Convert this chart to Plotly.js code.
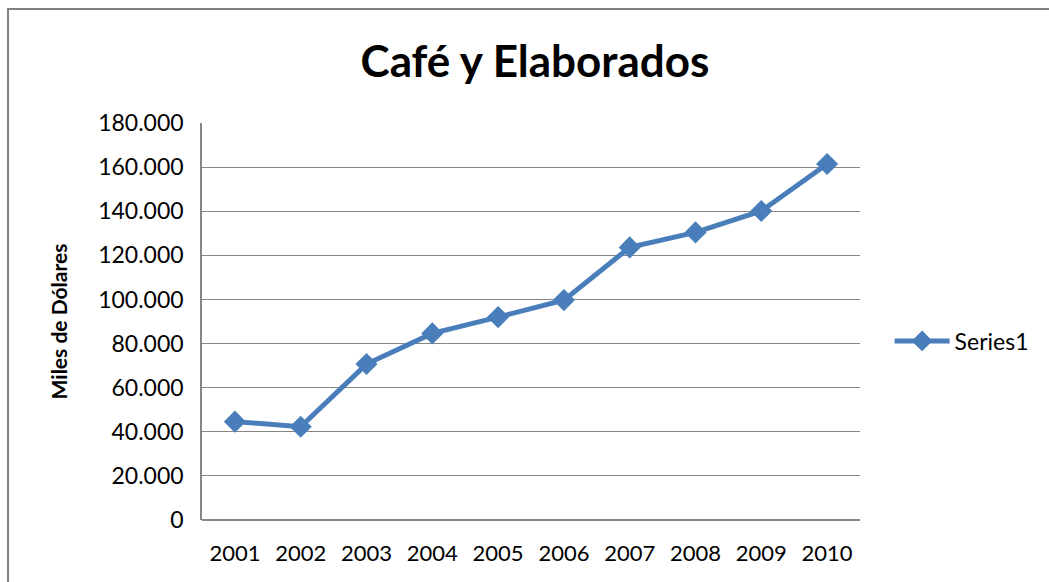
<!DOCTYPE html>
<html>
<head>
<meta charset="utf-8">
<script src="https://cdn.plot.ly/plotly-3.0.1.min.js"></script>
<style>
  body { margin: 0; background: #fff; }
  #plot { width: 1049px; height: 582px; }
</style>
</head>
<body>
<div id="plot"></div>
<script>
  // years on the x axis
  var years = ["2001", "2002", "2003", "2004", "2005", "2006", "2007", "2008", "2009", "2010"];
  // Miles de Dólares
  var values = [44600, 42300, 70700, 84600, 92000, 99700, 123600, 130400, 140100, 161400];
  var yTicks = [0, 20000, 40000, 60000, 80000, 100000, 120000, 140000, 160000, 180000];

  var trace1 = {
    x: years,
    y: values,
    name: "Series1",
    type: "scatter",
    mode: "lines+markers",
    line: { color: "#4a7ebb", width: 5 },
    marker: { symbol: "diamond", size: 17, color: "#4a7ebb" }
  };

  var layout = {
    title: {
      text: "<b>Café y Elaborados</b>",
      font: { family: "Lato, 'Open Sans', sans-serif", size: 44, color: "#000" },
      x: 0.51, xanchor: "center",
      y: 0.895, yanchor: "middle"
    },
    separators: ",.",
    font: { family: "Lato, 'Open Sans', sans-serif", color: "#000" },
    showlegend: true,
    legend: {
      x: 1.045, xanchor: "left",
      y: 0.451, yanchor: "middle",
      itemwidth: 55,
      font: { size: 23, color: "#000" }
    },
    xaxis: {
      type: "category",
      range: [-0.5, 9.5],
      showgrid: false,
      showline: false,
      zeroline: false,
      ticks: "",
      tickfont: { size: 22 },
      ticklabelstandoff: 18
    },
    yaxis: {
      title: {
        text: "<b>Miles de Dólares</b>",
        font: { size: 21 },
        standoff: 25
      },
      range: [0, 180000],
      tickvals: yTicks,
      tickformat: ",d",
      showline: true,
      linecolor: "#868686",
      linewidth: 1.5,
      gridcolor: "#868686",
      gridwidth: 1.3,
      zeroline: true,
      zerolinecolor: "#868686",
      zerolinewidth: 1.5,
      ticks: "",
      tickfont: { size: 23 },
      ticklabelstandoff: 12
    },
    shapes: [{
      type: "rect",
      xref: "paper", yref: "paper",
      x0: -0.2948, x1: 1.3, y0: -0.2, y1: 1.287,
      line: { color: "#808080", width: 2 }
    }],
    margin: { l: 202, r: 189, t: 123, b: 62 },
    paper_bgcolor: "#fff",
    plot_bgcolor: "#fff"
  };

  Plotly.newPlot("plot", [trace1], layout, { displayModeBar: false });
</script>
</body>
</html>
